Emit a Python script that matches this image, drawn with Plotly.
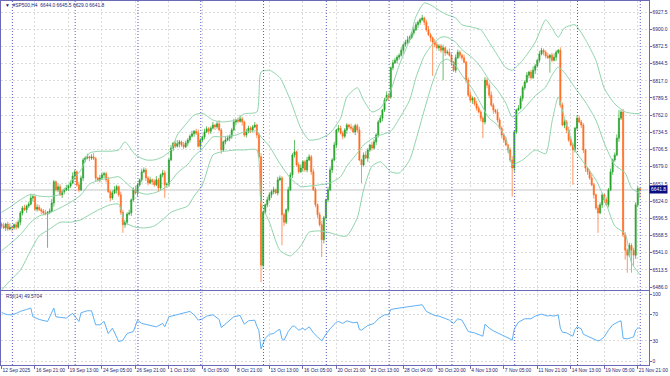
import plotly.graph_objects as go

# ---------------- data ----------------
close_ = [6584,6581,6587,6579,6582,6581,6586,6582,6590,6605,
6613,6610,6616,6619,6629,6631,6611,6614,6610,6608,
6605,6603,6606,6608,6621,6655,6642,6647,6634,6639,
6642,6645,6648,6653,6664,6671,6650,6642,6661,6690,
6693,6695,6693,6695,6692,6661,6658,6661,6666,6668,
6658,6639,6629,6637,6642,6647,6634,6606,6586,6590,
6603,6605,6626,6642,6637,6650,6658,6671,6674,6661,
6653,6658,6655,6650,6658,6645,6666,6669,6650,6651,
6690,6709,6717,6712,6716,6719,6714,6711,6717,6722,
6728,6732,6736,6733,6712,6722,6727,6735,6740,6736,
6741,6746,6743,6748,6738,6706,6719,6722,6725,6728,
6738,6751,6754,6752,6756,6751,6730,6735,6741,6738,
6743,6746,6730,6695,6521,6606,6618,6626,6634,6639,
6642,6637,6658,6661,6602,6590,6610,6642,6666,6698,
6703,6682,6671,6677,6687,6674,6690,6695,6671,6642,
6618,6602,6586,6562,6597,6626,6642,6674,6690,6714,
6738,6741,6733,6728,6738,6746,6743,6741,6735,6745,
6738,6690,6682,6698,6693,6706,6714,6709,6719,6730,
6751,6757,6770,6786,6794,6791,6838,6846,6850,6855,
6858,6866,6875,6879,6883,6887,6894,6899,6907,6911,
6915,6918,6911,6899,6891,6886,6879,6875,6870,6873,
6866,6870,6862,6863,6858,6847,6834,6854,6863,6858,
6854,6847,6818,6794,6786,6789,6780,6773,6767,6757,
6751,6818,6810,6794,6778,6770,6767,6754,6741,6730,
6722,6714,6706,6690,6677,6735,6770,6773,6789,6806,
6815,6826,6831,6822,6834,6841,6850,6860,6866,6863,
6857,6854,6858,6850,6855,6863,6866,6778,6746,6751,
6738,6722,6714,6706,6741,6757,6751,6746,6706,6677,
6671,6661,6650,6634,6613,6605,6618,6634,6626,6618,
6642,6671,6690,6698,6725,6757,6767,6570,6545,6537,
6553,6545,6537,6618,6644,6641.8]

open_ = [6587,6584,6581,6587,6579,6582,6581,6586,6582,6590,
6605,6613,6610,6616,6619,6629,6631,6611,6614,6610,
6608,6605,6603,6606,6608,6621,6655,6642,6647,6634,
6639,6642,6645,6648,6653,6664,6671,6650,6642,6661,
6690,6693,6695,6693,6695,6692,6661,6658,6661,6666,
6668,6658,6639,6629,6637,6642,6647,6634,6606,6586,
6590,6603,6605,6626,6642,6637,6650,6658,6671,6674,
6661,6653,6658,6655,6650,6658,6645,6666,6669,6650,
6651,6690,6709,6717,6712,6716,6719,6714,6711,6717,
6722,6728,6732,6736,6733,6712,6722,6727,6735,6740,
6736,6741,6746,6743,6748,6738,6706,6719,6722,6725,
6728,6738,6751,6754,6752,6756,6751,6730,6735,6741,
6738,6743,6746,6730,6695,6521,6606,6618,6626,6634,
6639,6642,6637,6658,6661,6602,6590,6610,6642,6666,
6698,6703,6682,6671,6677,6687,6674,6690,6695,6671,
6642,6618,6602,6586,6562,6597,6626,6642,6674,6690,
6714,6738,6741,6733,6728,6738,6746,6743,6741,6735,
6745,6738,6690,6682,6698,6693,6706,6714,6709,6719,
6730,6751,6757,6770,6786,6794,6791,6838,6846,6850,
6855,6858,6866,6875,6879,6883,6887,6894,6899,6907,
6911,6915,6918,6911,6899,6891,6886,6879,6875,6870,
6873,6866,6870,6862,6863,6858,6847,6834,6854,6863,
6858,6854,6847,6818,6794,6786,6789,6780,6773,6767,
6757,6751,6818,6810,6794,6778,6770,6767,6754,6741,
6730,6722,6714,6706,6690,6677,6735,6770,6773,6789,
6806,6815,6826,6831,6822,6834,6841,6850,6860,6866,
6863,6857,6854,6858,6850,6855,6863,6866,6778,6746,
6751,6738,6722,6714,6706,6741,6757,6751,6746,6706,
6677,6671,6661,6650,6634,6613,6605,6618,6634,6626,
6618,6642,6671,6690,6698,6725,6757,6767,6570,6545,
6537,6553,6545,6537,6618,6644.0]

high_ = [6590,6589,6589,6591,6588,6585,6588,6591,6594,6608,
6616,6618,6618,6623,6635,6634,6633,6619,6618,6613,
6611,6610,6608,6612,6627,6658,6657,6652,6651,6642,
6645,6650,6650,6657,6670,6674,6673,6655,6665,6693,
6696,6700,6697,6699,6701,6695,6663,6666,6670,6671,
6671,6663,6641,6641,6648,6650,6649,6639,6610,6593,
6606,6610,6628,6646,6648,6653,6660,6676,6678,6677,
6664,6663,6660,6659,6664,6661,6668,6674,6673,6654,
6693,6714,6719,6721,6722,6722,6721,6719,6721,6725,
6731,6737,6738,6740,6739,6725,6729,6740,6744,6743,
6744,6751,6748,6752,6754,6741,6721,6727,6729,6731,
6741,6756,6756,6758,6762,6759,6753,6740,6745,6744,
6746,6751,6748,6734,6701,6609,6620,6631,6638,6642,
6647,6644,6663,6665,6664,6605,6612,6647,6670,6701,
6722,6705,6686,6683,6690,6690,6695,6699,6698,6676,
6646,6620,6606,6592,6600,6628,6647,6678,6693,6719,
6740,6746,6745,6736,6741,6749,6748,6748,6745,6748,
6748,6743,6692,6702,6704,6709,6716,6719,6723,6733,
6754,6762,6772,6790,6800,6797,6840,6851,6854,6858,
6861,6871,6877,6883,6889,6890,6896,6904,6911,6914,
6918,6923,6920,6915,6905,6894,6888,6884,6879,6876,
6876,6875,6872,6867,6869,6861,6849,6859,6867,6866,
6861,6859,6849,6822,6800,6792,6791,6785,6777,6770,
6760,6823,6822,6814,6800,6781,6772,6772,6758,6744,
6733,6727,6716,6710,6696,6738,6772,6778,6793,6809,
6818,6831,6833,6835,6840,6844,6852,6865,6870,6869,
6866,6862,6860,6862,6861,6866,6868,6871,6782,6755,
6754,6743,6728,6717,6743,6762,6761,6754,6749,6708,
6679,6675,6667,6653,6636,6618,6622,6637,6636,6630,
6645,6676,6692,6702,6731,6770,6770,6772,6574,6548,
6557,6556,6549,6622,6648,6645.5]

low_ = [6580,6579,6576,6576,6577,6575,6578,6578,6580,6585,
6601,6608,6605,6613,6617,6623,6608,6607,6608,6603,
6601,6601,6549,6603,6606,6615,6639,6638,6632,6629,
6635,6640,6640,6645,6651,6658,6647,6638,6640,6656,
6686,6691,6688,6690,6690,6655,6655,6654,6659,6661,
6654,6637,6624,6626,6635,6636,6631,6602,6573,6581,
6586,6601,6600,6623,6635,6631,6647,6654,6669,6656,
6649,6651,6650,6647,6648,6639,6642,6662,6629,6645,
6647,6688,6704,6709,6710,6710,6711,6707,6709,6712,
6718,6726,6727,6730,6710,6706,6719,6723,6733,6731,
6732,6739,6738,6740,6736,6700,6703,6715,6720,6720,
6724,6736,6746,6749,6750,6745,6727,6726,6733,6733,
6734,6741,6725,6692,6494,6515,6603,6614,6624,6629,
6635,6635,6633,6656,6553,6584,6587,6606,6640,6661,
6694,6679,6668,6669,6671,6671,6670,6688,6666,6640,
6614,6597,6583,6534,6556,6594,6622,6640,6669,6688,
6709,6735,6731,6723,6725,6732,6740,6737,6733,6730,
6734,6688,6653,6679,6691,6687,6703,6705,6707,6714,
6726,6749,6752,6767,6784,6785,6788,6834,6844,6845,
6851,6856,6861,6872,6876,6878,6884,6890,6897,6902,
6907,6913,6906,6896,6889,6880,6825,6871,6868,6865,
6862,6818,6857,6859,6856,6841,6831,6830,6852,6853,
6850,6845,6813,6791,6782,6780,6777,6769,6765,6752,
6725,6747,6805,6789,6775,6764,6764,6750,6739,6725,
6718,6712,6701,6687,6631,6671,6732,6769,6771,6784,
6802,6813,6821,6819,6820,6828,6838,6846,6858,6858,
6853,6852,6830,6847,6848,6849,6860,6774,6744,6741,
6733,6719,6712,6650,6702,6738,6749,6741,6701,6671,
6666,6658,6648,6628,6610,6573,6603,6613,6621,6616,
6614,6640,6666,6687,6696,6719,6754,6566,6530,6509,
6534,6509,6520,6531,6614,6629.0]

band_bar = [0,4,9,14,18,23,28,33,38,42,47,52,56,59,64,69,73,77,81,84,89,92,96,
            101,105,112,116,122,124,128,133,138,143,147,152,157,162,165,170,173,177,181,
            186,190,195,198,202,206,210,213,217,220,225,229,233,237,241,244,249,255,260,
            263,266,269,274,279,284,288,293,298,301,305]
bb_upper = [6606,6614,6626,6635,6632,6631,6635,6655,6674,6701,6704,6704,6706,6719,6698,6690,6690,6695,6706,6730,6751,6762,6765,
            6754,6751,6754,6764,6767,6831,6834,6822,6786,6741,6722,6724,6733,6757,6791,6806,6786,6767,6773,
            6802,6842,6883,6920,6942,6937,6928,6923,6918,6907,6903,6899,6879,6858,6838,6834,6850,6879,6915,
            6902,6887,6902,6907,6883,6850,6805,6780,6767,6765,6764]
bb_middle = [6544,6555,6570,6590,6600,6605,6613,6622,6634,6651,6658,6661,6663,6655,6640,6635,6637,6643,6656,6669,6683,6696,6708,
             6727,6727,6730,6735,6736,6727,6712,6684,6661,6647,6648,6650,6653,6663,6680,6701,6714,6724,6730,
             6736,6756,6786,6822,6857,6876,6887,6887,6879,6867,6854,6839,6818,6802,6781,6759,6770,6793,6807,
             6826,6839,6830,6806,6783,6754,6717,6682,6669,6645,6636]
bb_lower = [6481,6496,6513,6545,6568,6579,6590,6590,6594,6602,6611,6618,6619,6590,6582,6581,6584,6594,6606,6610,6616,6632,6650,
            6698,6703,6706,6706,6706,6622,6590,6545,6536,6552,6574,6576,6573,6568,6568,6597,6642,6680,6687,
            6671,6669,6690,6722,6770,6815,6847,6852,6841,6826,6804,6780,6757,6746,6725,6683,6690,6706,6700,
            6751,6791,6757,6706,6682,6658,6629,6584,6571,6525,6506]

# RSI(14)
rsi_bar = [0,1,3,5,7,9,12,14,15,18,22,24,25,26,28,31,33,34,37,38,41,43,45,47,49,51,53,56,58,60,63,65,67,70,74,77,78,80,
           84,86,90,92,94,96,98,101,104,105,108,111,114,116,118,121,122,123,124,126,128,130,132,133,134,135,137,139,140,142,
           144,145,147,149,151,153,155,157,160,161,163,165,168,170,171,172,175,178,180,183,185,186,190,195,199,201,203,205,
           207,209,212,214,216,218,220,222,223,226,228,230,231,233,235,238,241,243,244,245,247,250,253,255,258,261,262,264,
           266,267,268,270,273,274,275,277,278,280,283,285,286,288,290,292,295,296,297,299,301,302,303,304,305]
rsi_val = [73,71,69,69,71,74,77,79,66,62,59,71,79,66,65,64,69,71,59,72,75,75,54,54,59,41,49,29,31,41,44,61,56,54,51,56,51,66,
           69,71,74,69,61,63,67,69,62,50,58,66,68,55,60,61,52,45,18,34,40,41,46,47,33,31,44,52,52,46,
           49,46,51,42,36,30,40,48,58,59,56,60,57,58,47,46,53,56,63,69,69,77,79,81,83,84,74,71,
           68,67,64,61,56,63,61,50,44,42,40,37,55,49,45,40,36,33,31,48,58,63,63,67,70,67,68,67,
           69,49,43,42,37,47,51,48,40,37,33,30,31,36,46,54,59,60,34,33,35,36,46,49,49.5704]

price_ticks = [6486.0, 6513.5, 6541.0, 6568.5, 6596.5, 6624.0, 6651.5, 6679.0, 6706.5,
               6734.5, 6762.0, 6789.5, 6817.0, 6844.5, 6872.5, 6900.0, 6927.5]
rsi_ticks = [0, 30, 70, 100]
time_labels = ["12 Sep 2025", "16 Sep 21:00", "19 Sep 13:00", "24 Sep 05:00", "26 Sep 21:00",
               "1 Oct 13:00", "6 Oct 05:00", "8 Oct 21:00", "13 Oct 13:00", "16 Oct 05:00",
               "20 Oct 21:00", "23 Oct 13:00", "28 Oct 04:00", "30 Oct 20:00", "4 Nov 13:00",
               "7 Nov 05:00", "11 Nov 21:00", "14 Nov 13:00", "19 Nov 05:00", "21 Nov 21:00"]
bars_per_label = 16
week_separators = [5.2, 35.2, 65.2, 95.2, 125.2, 155.2, 185.2, 215.2, 245.2, 275.2, 305.2]
symbol = "#SP500,H4"

# ---------------- styling ----------------
W, H = 670, 376
BULL = "#27a22b"
BEAR = "#ff6a1c"
BAND = "#8fd4ab"
RSI_C = "#5fb0f5"
AXIS = "#6a6ab8"
TXT = "#1e1e72"
GRID = "#dcdcdc"
SEP = "#5a5ac4"
FONT = "Liberation Sans"
FS = 4.9

bars = list(range(len(close_)))
last = close_[-1]

fig = go.Figure()
fig.add_trace(go.Candlestick(
    x=bars, open=open_, high=high_, low=low_, close=close_,
    increasing=dict(line=dict(color=BULL, width=0.7), fillcolor=BULL),
    decreasing=dict(line=dict(color=BEAR, width=0.7), fillcolor=BEAR),
    whiskerwidth=0, hoverinfo="skip", showlegend=False, xaxis="x", yaxis="y"))
for band in (bb_upper, bb_middle, bb_lower):
    fig.add_trace(go.Scatter(x=band_bar, y=band, mode="lines",
                             line=dict(color=BAND, width=1, shape="spline", smoothing=0.6),
                             hoverinfo="skip", showlegend=False, xaxis="x", yaxis="y"))
fig.add_trace(go.Scatter(x=rsi_bar, y=rsi_val, mode="lines",
                         line=dict(color=RSI_C, width=1),
                         hoverinfo="skip", showlegend=False, xaxis="x2", yaxis="y2"))

# geometry (pixels)
px_left, px_right = 1.0, 648.5
main_top, main_bot = 1.0, 290.0
rsi_top, rsi_bot = 291.0, 365.0
bar0_px, bar_px = 1.5, 2.093
xr = [(px_left - bar0_px) / bar_px, (px_right - bar0_px) / bar_px]
p_per_px = (price_ticks[-1] - price_ticks[0]) / (287.0 - 12.0)
p_at0 = price_ticks[-1] + 12.0 * p_per_px
yr = [p_at0 - main_bot * p_per_px, p_at0 - main_top * p_per_px]
r_per_px = 100.0 / (361.0 - 294.0)
y2r = [0 - (rsi_bot - 361.0) * r_per_px, 100 + (294.0 - rsi_top) * r_per_px]

xdom = [px_left / W, px_right / W]
ydom_main = [1 - main_bot / H, 1 - main_top / H]
ydom_rsi = [1 - rsi_bot / H, 1 - rsi_top / H]

tick_pos = [bars_per_label * k for k in range(len(time_labels))]
font = dict(family=FONT, size=FS, color=TXT)

common_x = dict(range=xr, domain=xdom, tickvals=tick_pos, showgrid=True, gridcolor=GRID,
                griddash="2px,2px", gridwidth=1, zeroline=False, showline=True, linecolor=AXIS,
                linewidth=1, mirror=True, automargin=False, fixedrange=True)
fig.update_layout(
    width=W, height=H, margin=dict(l=0, r=0, t=0, b=0, pad=0),
    paper_bgcolor="white", plot_bgcolor="white", showlegend=False, boxgap=0.25,
    xaxis=dict(**common_x, anchor="y", showticklabels=False, ticks="",
               rangeslider=dict(visible=False)),
    xaxis2=dict(**common_x, anchor="y2", matches="x", ticktext=time_labels,
                ticks="outside", ticklen=3, tickcolor=AXIS, tickfont=font, tickangle=0,
                ticklabelposition="outside right", ticklabelstandoff=0),
    yaxis=dict(domain=ydom_main, range=yr, side="right", tickvals=price_ticks,
               ticktext=[f"{v:.1f}" for v in price_ticks], tickfont=font,
               ticks="outside", ticklen=2, tickcolor=AXIS, showgrid=True, gridcolor=GRID,
               griddash="2px,2px", zeroline=False, showline=True, linecolor=AXIS, linewidth=1,
               mirror=True, automargin=False, anchor="x", fixedrange=True),
    yaxis2=dict(domain=ydom_rsi, range=y2r, side="right", tickvals=rsi_ticks,
                ticktext=[str(v) for v in rsi_ticks], tickfont=font,
                ticks="outside", ticklen=2, tickcolor=AXIS, showgrid=True, gridcolor=GRID,
                griddash="2px,2px", zeroline=False, showline=True, linecolor=AXIS, linewidth=1,
                mirror=True, automargin=False, anchor="x2", fixedrange=True),
)

shapes = []
for s in week_separators:
    shapes.append(dict(type="line", xref="x", yref="paper", x0=s, x1=s,
                       y0=ydom_rsi[0], y1=ydom_main[1],
                       line=dict(color=SEP, width=1, dash="1px,2px")))
shapes.append(dict(type="line", xref="paper", yref="y", x0=xdom[0], x1=xdom[1],
                   y0=last, y1=last, line=dict(color="#c4c4c4", width=1), layer="below"))
fig.update_layout(shapes=shapes)

fig.add_annotation(xref="paper", yref="paper", x=3 / W, y=1 - 5.5 / H, xanchor="left",
                   yanchor="middle", showarrow=False, align="left",
                   text=f"\u25BC  {symbol}  {open_[-1]:.1f} {high_[-1]:.1f} {low_[-1]:.1f} {close_[-1]:.1f}",
                   font=font)
fig.add_annotation(xref="paper", yref="paper", x=4 / W, y=1 - 296.5 / H, xanchor="left",
                   yanchor="middle", showarrow=False,
                   text=f"RSI(14) {rsi_val[-1]:.4f}", font=font)
fig.add_annotation(xref="paper", yref="y", x=xdom[1], y=last, xanchor="left", yanchor="middle",
                   showarrow=False, text=f"{last:.1f}", bgcolor="#0c0c82", borderpad=1,
                   font=dict(family=FONT, size=FS, color="white"))

fig.write_html("out.html")
